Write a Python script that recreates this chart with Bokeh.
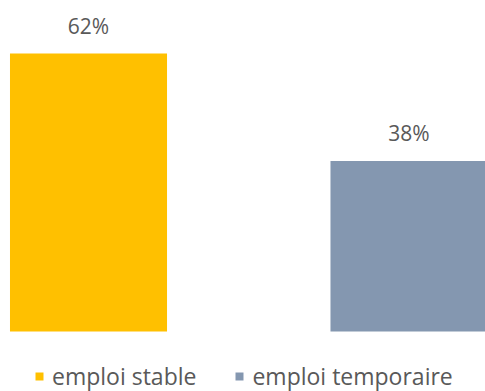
import numpy as np
from bokeh.plotting import figure
from bokeh.models import Range1d, ColumnDataSource, Legend, LegendItem
from bokeh.core.properties import value
from bokeh.embed import file_html
from bokeh.resources import INLINE

categories = ["emploi stable", "emploi temporaire"]
values = [62, 38]
labels = ["62%", "38%"]
colors = ["#FFC000", "#8497B0"]

x = np.arange(len(categories)) + 0.5

p = figure(width=485, height=391, output_backend="svg", toolbar_location=None,
           x_range=Range1d(0.2254, 1.7387), y_range=Range1d(-13.38, 73.82),
           min_border=0, outline_line_color=None)
p.axis.visible = False
p.xgrid.visible = False
p.ygrid.visible = False

renderers = []
for i, c in enumerate(categories):
    src = ColumnDataSource(dict(x=[x[i]], top=[values[i]], lab=[labels[i]]))
    r = p.vbar(x="x", top="top", bottom=0, width=0.49, source=src,
               fill_color=colors[i], line_color=None)
    renderers.append(r)
    p.text(x="x", y="top", text="lab", source=src, y_offset=-28,
           text_align="center", text_baseline="alphabetic",
           text_font=value("Open Sans"), text_font_size="21px", text_color="#595959")

legend = Legend(items=[LegendItem(label=c, renderers=[r]) for c, r in zip(categories, renderers)],
                orientation="horizontal", location=(34, -1),
                glyph_width=10, glyph_height=10, label_standoff=8, spacing=38,
                padding=0, margin=0, border_line_color=None, background_fill_alpha=0,
                label_text_font="Open Sans", label_text_font_size="23px",
                label_text_color="#595959")
p.add_layout(legend)

open("out.html", "w").write(file_html(p, INLINE))
